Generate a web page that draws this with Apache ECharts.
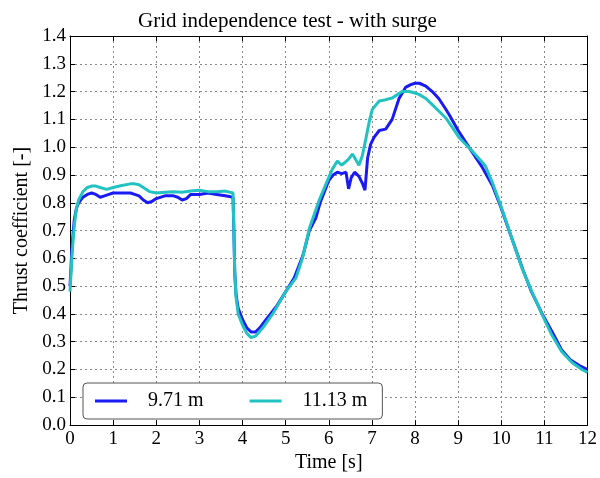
<!DOCTYPE html>
<html>
<head>
<meta charset="utf-8">
<script src="https://cdn.jsdelivr.net/npm/echarts@6/dist/echarts.min.js"></script>
<style>html,body{margin:0;padding:0;background:#fff}#c{width:600px;height:478px}</style>
</head>
<body>
<div id="c"></div>
<script>
var timeBlue = [0,0.05,0.1,0.15,0.2,0.3,0.4,0.5,0.6,0.7,0.8,0.9,1.0,1.2,1.4,1.5,1.6,1.7,1.8,1.9,2.0,2.2,2.4,2.5,2.6,2.7,2.8,3.0,3.2,3.4,3.6,3.78,3.8,3.82,3.85,3.9,4.0,4.1,4.2,4.3,4.4,4.5,4.6,4.7,4.8,5.0,5.2,5.4,5.55,5.7,5.8,5.9,6.0,6.1,6.2,6.3,6.4,6.46,6.52,6.6,6.7,6.78,6.84,6.9,6.97,7.05,7.17,7.32,7.47,7.63,7.78,7.9,8.0,8.1,8.25,8.4,8.55,8.7,8.8,9.0,9.25,9.55,9.8,10.0,10.25,10.5,10.7,10.95,11.2,11.4,11.6,11.8,12.0];
var ctBlue = [0.50,0.65,0.74,0.78,0.80,0.82,0.83,0.835,0.83,0.82,0.825,0.83,0.835,0.835,0.835,0.83,0.825,0.81,0.80,0.805,0.815,0.825,0.825,0.82,0.81,0.815,0.83,0.83,0.835,0.83,0.825,0.82,0.70,0.55,0.47,0.42,0.38,0.35,0.335,0.335,0.35,0.37,0.39,0.41,0.43,0.48,0.53,0.61,0.70,0.745,0.80,0.84,0.88,0.90,0.91,0.905,0.91,0.85,0.89,0.91,0.895,0.87,0.845,0.96,1.01,1.035,1.06,1.065,1.10,1.175,1.215,1.225,1.23,1.23,1.22,1.20,1.175,1.14,1.115,1.06,1.00,0.93,0.86,0.78,0.67,0.56,0.48,0.40,0.33,0.27,0.235,0.215,0.20];
var timeCyan = [0,0.05,0.1,0.15,0.2,0.3,0.4,0.5,0.6,0.7,0.85,1.0,1.2,1.4,1.5,1.6,1.7,1.85,2.0,2.2,2.4,2.6,2.8,3.0,3.2,3.4,3.6,3.78,3.8,3.82,3.85,3.9,4.0,4.1,4.2,4.3,4.47,4.7,5.0,5.24,5.39,5.55,5.78,5.93,6.08,6.2,6.3,6.45,6.55,6.7,6.78,6.86,6.95,7.01,7.17,7.3,7.47,7.6,7.7,7.86,8.0,8.09,8.25,8.4,8.55,8.71,8.85,9.02,9.32,9.63,9.8,10.0,10.25,10.48,10.71,10.94,11.17,11.4,11.64,11.87,12.0];
var ctCyan = [0.48,0.62,0.72,0.78,0.81,0.84,0.855,0.86,0.86,0.855,0.848,0.855,0.862,0.868,0.868,0.865,0.855,0.84,0.835,0.838,0.84,0.838,0.842,0.845,0.84,0.84,0.842,0.835,0.70,0.55,0.46,0.40,0.36,0.33,0.315,0.32,0.35,0.40,0.48,0.53,0.60,0.707,0.81,0.865,0.92,0.95,0.935,0.955,0.975,0.935,0.97,1.03,1.10,1.136,1.166,1.17,1.177,1.19,1.20,1.20,1.195,1.19,1.175,1.153,1.13,1.106,1.075,1.035,0.987,0.933,0.87,0.785,0.67,0.565,0.48,0.40,0.325,0.265,0.225,0.20,0.19];
var seriesNames = ['9.71 m','11.13 m'];
var titleText = 'Grid independence test - with surge';
var xName = 'Time [s]';
var yName = 'Thrust coefficient [-]';

function pairs(t, v){ return t.map(function(x,i){ return [x, v[i]]; }); }

var FONT = '"Liberation Serif","Times New Roman",serif';
var chart = echarts.init(document.getElementById('c'), null, {renderer:'canvas'});
var gridLine = {show:true, lineStyle:{color:'#8a8a8a', type:[2,3], width:1}};
var axisBase = {
  axisLine:{show:true, onZero:false, lineStyle:{color:'#000', width:1}},
  axisTick:{show:true, inside:true, length:5, lineStyle:{color:'#000'}}
};
chart.setOption({
  animation:false,
  backgroundColor:'#fff',
  title:{text:titleText, left:133, top:6, textStyle:{fontFamily:FONT, fontSize:21, fontWeight:'normal', color:'#000'}},
  grid:{left:70, right:11, top:36, bottom:50, containLabel:false},
  legend:{
    data:seriesNames, left:83, top:383, orient:'horizontal', icon:'rect',
    padding:[8,15,8,12], itemWidth:32, itemHeight:3, itemGap:46,
    borderColor:'#555', borderWidth:1, borderRadius:4, backgroundColor:'#fff',
    textStyle:{fontFamily:FONT, fontSize:20, color:'#000', padding:[0,0,0,16]}
  },
  xAxis:[
    Object.assign({type:'value', min:0, max:12, interval:1, name:xName, nameLocation:'middle', nameGap:27,
      nameTextStyle:{fontFamily:FONT, fontSize:20, color:'#000'},
      axisLabel:{fontFamily:FONT, fontSize:19, color:'#000', margin:4},
      splitLine:gridLine}, axisBase),
    Object.assign({type:'value', position:'top', min:0, max:12, interval:1, axisLabel:{show:false}, splitLine:{show:false}}, axisBase)
  ],
  yAxis:[
    Object.assign({type:'value', min:0, max:1.4, interval:0.1, name:yName, nameLocation:'middle', nameGap:38,
      nameTextStyle:{fontFamily:FONT, fontSize:20, color:'#000'},
      axisLabel:{fontFamily:FONT, fontSize:19, color:'#000', margin:4, formatter:function(v){return v.toFixed(1);}},
      splitLine:gridLine}, axisBase),
    Object.assign({type:'value', position:'right', min:0, max:1.4, interval:0.1, axisLabel:{show:false}, splitLine:{show:false}}, axisBase)
  ],
  series:[
    {name:seriesNames[0], type:'line', xAxisIndex:0, yAxisIndex:0, data:pairs(timeBlue, ctBlue), symbol:'none', smooth:false,
      lineStyle:{color:'#1a1af5', width:3}, itemStyle:{color:'#1a1af5'}, z:2},
    {name:seriesNames[1], type:'line', xAxisIndex:0, yAxisIndex:0, data:pairs(timeCyan, ctCyan), symbol:'none', smooth:false,
      lineStyle:{color:'#22c2c2', width:3}, itemStyle:{color:'#22c2c2'}, z:3}
  ]
});
</script>
</body>
</html>
